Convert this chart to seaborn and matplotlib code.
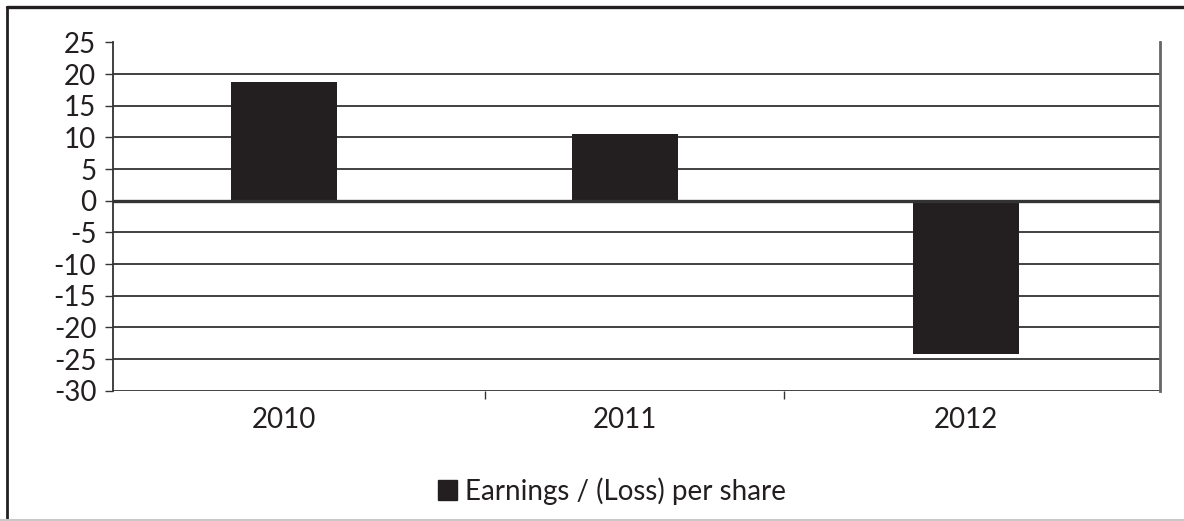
import matplotlib
matplotlib.use("Agg")
import matplotlib.pyplot as plt
from matplotlib.lines import Line2D
from matplotlib.patches import Patch
import seaborn as sns
import pandas as pd

years = ["2010", "2011", "2012"]
eps = [18.8, 10.6, -24.2]
yticks = list(range(-30, 30, 5))
series_label = "Earnings / (Loss) per share"

BAR = "#231f20"
GRID = "#333333"

sns.set_theme(style="white")
plt.rcParams["font.family"] = ["Lato", "DejaVu Sans"]

W, H = 1184, 521
fig = plt.figure(figsize=(W / 100, H / 100), dpi=100)
ax = fig.add_axes([113 / W, 1 - 390.7 / H, (1160 - 113) / W, (390.7 - 42.5) / H])

df = pd.DataFrame({"year": years, "eps": eps})
sns.barplot(data=df, x="year", y="eps", color=BAR, saturation=1,
            width=0.31, ax=ax, zorder=3, errorbar=None, linewidth=0)

ax.set_ylim(-30, 25)
ax.set_xlim(-0.502, 2.569)
ax.set_yticks(yticks)
ax.set_yticklabels([str(v) for v in yticks])
ax.set_xlabel("")
ax.set_ylabel("")

for v in yticks:
    ax.axhline(v, color=GRID, lw=1.3 if v != 0 else 2.4, zorder=2 if v != 0 else 4)

ax.tick_params(axis="y", length=6, width=1, color=GRID, pad=6, labelsize=20,
               labelcolor="#231f20", left=True)
ax.tick_params(axis="x", which="major", length=0, pad=12, labelsize=20,
               labelcolor="#231f20")
ax.set_xticks([0.59, 1.466], minor=True)
ax.tick_params(axis="x", which="minor", length=6, width=1, color=GRID, bottom=True)

for side in ("top", "bottom"):
    ax.spines[side].set_visible(False)
ax.spines["left"].set_color(GRID)
ax.spines["left"].set_linewidth(1.3)
ax.spines["right"].set_color("#666666")
ax.spines["right"].set_linewidth(2)

handle = Patch(facecolor=BAR, edgecolor=BAR)
fig.legend([handle], [series_label], loc="center", bbox_to_anchor=(612 / W, 1 - 491 / H),
           frameon=False, fontsize=20, handlelength=0.7, handleheight=0.7,
           handletextpad=0.3, labelcolor="#231f20")

# outer frame
fig.add_artist(Line2D([6.5 / W, 6.5 / W], [0, 1 - 7 / H], transform=fig.transFigure,
                      color="#231f20", lw=2))
fig.add_artist(Line2D([6.5 / W, 1], [1 - 7 / H, 1 - 7 / H], transform=fig.transFigure,
                      color="#231f20", lw=2.4))
fig.add_artist(Line2D([0, 1], [0.6 / H, 0.6 / H], transform=fig.transFigure,
                      color="#c8c8c8", lw=1.5))

fig.savefig("out.png", dpi=100, facecolor="white")
